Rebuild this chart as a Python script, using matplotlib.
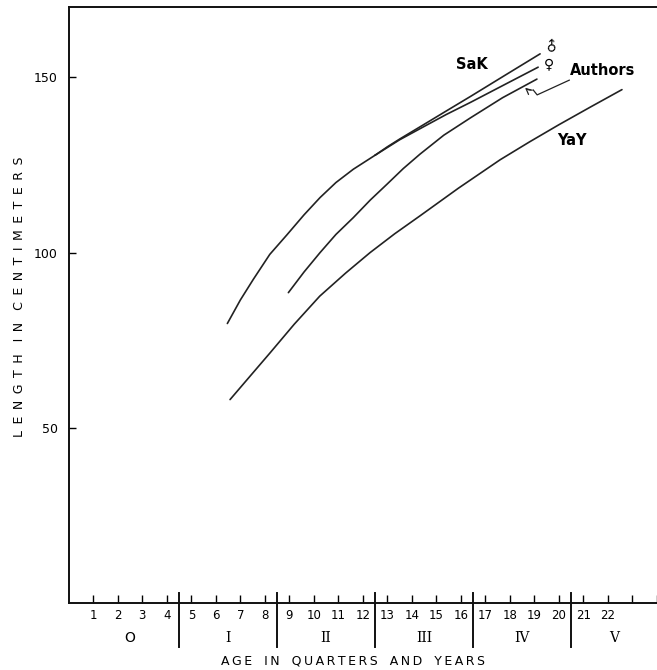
import matplotlib
matplotlib.use("Agg")
import matplotlib.pyplot as plt
from matplotlib import transforms

# growth curves (age in quarters, length in cm)
sak_x = [6.47, 7.0, 7.53, 8.2, 8.89, 9.6, 10.25, 10.9, 11.61, 12.5]
sak_y = [79.8, 86.5, 92.4, 99.5, 105.0, 110.8, 115.7, 120.0, 123.8, 127.8]
male_x = [12.5, 13.0, 13.5, 14.5, 15.4, 16.4, 17.8, 19.23]
male_y = [127.8, 130.2, 132.4, 136.6, 140.4, 144.6, 150.6, 156.7]
female_x = [12.5, 13.0, 13.5, 14.5, 15.4, 16.4, 17.8, 19.15]
female_y = [127.8, 130.0, 132.2, 136.0, 139.4, 142.9, 148.0, 152.9]
auth_x = [8.96, 9.6, 10.25, 10.9, 11.61, 12.3, 12.98, 13.65, 14.33, 15.3,
          16.4, 17.7, 19.1]
auth_y = [88.6, 94.5, 100.0, 105.2, 110.0, 115.0, 119.5, 124.0, 128.1, 133.5,
          138.5, 144.2, 149.5]
yay_x = [6.58, 7.4, 8.21, 9.2, 10.24, 11.3, 12.29, 13.3, 14.33, 15.9, 17.6,
         18.8, 20.0, 21.3, 22.57]
yay_y = [58.1, 64.8, 71.4, 79.6, 87.6, 94.2, 100.0, 105.4, 110.5, 118.4,
         126.5, 131.6, 136.5, 141.6, 146.5]

quarters = list(range(1, 25))
quarter_labels = [str(q) if q <= 22 else '' for q in quarters]
year_breaks = [4.5, 8.5, 12.5, 16.5, 20.5]
year_names = ['O', 'I', 'II', 'III', 'IV', 'V']
year_centers = [2.5, 6.5, 10.5, 14.5, 18.5, 22.25]


def spaced(s, gap):
    # letter-spaced caption like the hand lettering
    return '   '.join(gap.join(w) for w in s.split())


fig = plt.figure(figsize=(6.57, 6.70), dpi=100)
ax = fig.add_axes([0.1047, 0.0996, 0.8953, 0.8896])

lc = '#222222'
for xs, ys in [(sak_x, sak_y), (male_x, male_y), (female_x, female_y),
               (auth_x, auth_y), (yay_x, yay_y)]:
    ax.plot(xs, ys, color=lc, lw=1.2, solid_capstyle='round',
            solid_joinstyle='round')

ax.set_xlim(0, 24)
ax.set_ylim(0, 170)
ax.spines['right'].set_visible(False)
for s in ['left', 'top', 'bottom']:
    ax.spines[s].set_linewidth(1.4)
    ax.spines[s].set_color('#111111')

ax.set_yticks([50, 100, 150])
ax.set_yticklabels(['50', '100', '150'], fontsize=9)
ax.tick_params(axis='y', direction='in', length=5, width=1, pad=8)
ax.set_xticks(quarters)
ax.set_xticklabels(quarter_labels, fontsize=8.5)
ax.tick_params(axis='x', direction='in', length=6, width=1, pad=4)

# year dividers below the axis
trans = transforms.blended_transform_factory(ax.transData, ax.transAxes)
for b in year_breaks:
    ax.plot([b, b], [0.017, -0.074], color='#111111', lw=1.4,
            transform=trans, clip_on=False)
for c, n in zip(year_centers, year_names):
    fam = 'DejaVu Sans' if n == 'O' else 'DejaVu Serif'
    ax.text(c, -0.058, n, transform=trans, ha='center', va='center',
            fontsize=10, family=fam)

ax.text(11.6, -0.097, spaced('AGE IN QUARTERS AND YEARS', '\u2009'),
        transform=trans, ha='center', va='center', fontsize=9)
fig.text(0.029, 0.557, spaced('LENGTH IN CENTIMETERS', ' \u2009'),
         rotation=90, ha='center', va='center', fontsize=9)

# curve labels
ax.text(16.44, 153.8, 'SaK', ha='center', va='center', fontsize=10.5,
        fontweight='bold')
ax.text(20.46, 151.9, 'Authors', ha='left', va='center', fontsize=10.5,
        fontweight='bold')
ax.text(20.53, 131.9, 'YaY', ha='center', va='center', fontsize=10.5,
        fontweight='bold')
ax.text(19.71, 159.0, '\u2642', ha='center', va='center', fontsize=10,
        rotation=45)
ax.text(19.61, 153.8, '\u2640', ha='center', va='center', fontsize=10)

# pointer from "Authors" to its curve
ax.plot([20.42, 19.11, 18.95], [149.2, 145.0, 146.4], color=lc, lw=0.9)
ax.annotate('', xy=(18.54, 147.6), xytext=(18.95, 146.4),
            arrowprops=dict(arrowstyle='->', color=lc, lw=0.9,
                            connectionstyle='arc3,rad=-0.3'))

plt.savefig('out.png', dpi=100)
